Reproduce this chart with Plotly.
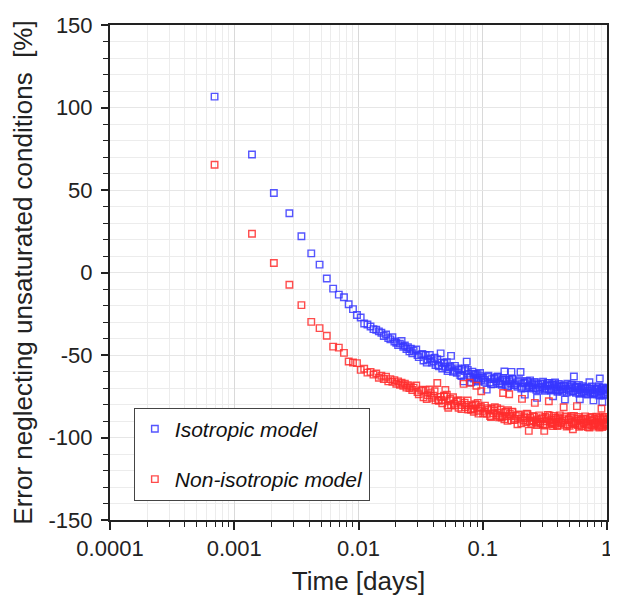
import plotly.graph_objects as go

# Time stamps of the plotted samples, in minutes
time_min = [
    1, 2, 3, 4, 5, 6, 7, 8, 9, 10, 11, 12, 13, 14, 15, 16, 17, 18, 19, 20,
    21, 22, 23, 24, 25, 26, 27, 28, 29, 30, 31, 32, 33, 34, 35, 36, 37, 38, 39, 40,
    42, 44, 46, 48, 50, 52, 54, 56, 58, 60, 62, 64, 66, 68, 70, 72, 74, 76, 78, 80,
    83, 86, 89, 92, 95, 98, 101, 104, 107, 110, 113, 116, 119, 122, 125, 128, 131, 134, 137, 140,
    145, 150, 155, 160, 165, 170, 175, 180, 185, 190, 195, 200, 205, 210, 215, 220, 225, 230, 235, 240, 245, 250,
    258, 266, 274, 282, 290, 298, 306, 314, 322, 330, 338, 346, 354, 362, 370, 378, 386, 394, 402,
    410, 420, 430, 440, 450, 460, 470, 480, 490, 500, 510, 520, 530, 540, 550, 560, 570, 580, 590, 600,
    615, 630, 645, 660, 675, 690, 705, 720, 735, 750, 765, 780, 795, 810, 825, 840, 855, 870, 885, 900,
    920, 940, 960, 980, 1000, 1020, 1040, 1060, 1080, 1100, 1120, 1140, 1160, 1180, 1200, 1220, 1240,
    1260, 1280, 1300, 1320, 1340, 1360, 1380, 1400, 1420, 1440,
    43, 47, 51, 55, 59, 63, 67, 71, 75, 79,
    85, 91, 97, 103, 109, 115, 121, 127, 133, 139,
    148, 158, 168, 178, 188, 198, 208, 218, 228, 238, 248,
    262, 278, 294, 310, 326, 342, 358, 374, 390,
    415, 435, 455, 475, 495, 515, 535, 555, 575, 595,
    622, 652, 682, 712, 742, 772, 802, 832, 862, 892,
    930, 970, 1010, 1050, 1090, 1130, 1170, 1210, 1250, 1290, 1330, 1370, 1410, 1435,
]

iso_err = [
    106.6, 71.5, 48.2, 35.9, 22.0, 11.6, 4.8, -3.6, -9.8, -13.4, -15.0, -19.2, -22.2, -25.8, -27.3, -30.9, -31.5, -32.7, -34.3, -34.7,
    -35.7, -36.5, -38.5, -37.6, -39.8, -40.5, -39.2, -41.8, -42.6, -44.0, -43.1, -41.5, -45.0, -44.2, -46.4, -45.3, -47.8, -46.2, -48.9, -47.4,
    -46.7, -51.3, -49.8, -53.3, -50.0, -52.7, -50.0, -54.6, -53.7, -56.1, -52.6, -56.8, -49.0, -58.2, -54.7, -57.1, -54.3, -58.6, -57.5, -50.5,
    -60.2, -56.6, -60.8, -59.0, -62.2, -58.6, -66.0, -58.1, -54.0, -61.3, -63.6, -66.5, -60.1, -64.2, -62.2, -65.3, -61.6, -63.9, -60.9, -65.1,
    -63.9, -66.2, -71.0, -62.6, -66.6, -64.6, -67.6, -63.8, -66.1, -63.0, -67.2, -65.9, -68.0, -64.1, -60.0, -68.1, -66.0, -68.9, -65.1, -67.3, -60.2, -64.3,
    -68.4, -67.1, -69.2, -65.3, -60.3, -69.3, -67.2, -74.0, -70.2, -66.4, -68.6, -65.4, -69.5, -68.2, -70.3, -66.3, -70.2, -76.0, -68.1,
    -71.0, -67.2, -69.3, -66.2, -70.2, -68.9, -70.9, -67.0, -70.8, -68.7, -71.5, -67.7, -75.0, -69.9, -66.7, -70.8, -69.4, -71.5, -67.5, -71.4,
    -69.3, -72.2, -68.3, -77.0, -70.6, -67.4, -71.5, -70.2, -72.2, -68.3, -72.1, -63.0, -70.1, -72.9, -69.1, -71.2, -68.1, -76.8, -70.8, -72.8,
    -68.9, -72.8, -70.6, -73.5, -69.6, -71.8, -66.5, -72.7, -71.3, -73.4, -77.5, -73.3, -71.1, -74.0, -70.1, -72.3, -69.1,
    -64.2, -71.8, -73.8, -78.5, -69.9, -73.7, -71.6, -74.4, -70.5, -72.6,
    -50.1, -49.3, -54.6, -52.1, -51.7, -56.3, -54.6, -55.1, -59.8, -56.8,
    -59.5, -58.1, -62.8, -59.8, -59.0, -63.3, -61.3, -61.6, -66.1, -62.9,
    -65.1, -63.3, -67.7, -64.5, -63.4, -67.4, -65.1, -65.1, -69.3, -65.9, -64.7,
    -68.0, -66.1, -70.3, -66.9, -65.7, -69.5, -67.2, -67.1, -71.3,
    -69.6, -67.6, -71.7, -68.2, -66.9, -70.7, -68.3, -68.2, -72.3, -68.8,
    -70.7, -68.7, -72.8, -69.3, -68.0, -71.9, -69.5, -69.4, -73.5, -70.0,
    -71.9, -69.8, -73.9, -70.4, -69.1, -72.9, -70.5, -70.4, -74.5, -71.0, -69.6, -73.4, -71.0, -70.8,
]

noniso_err = [
    65.3, 23.5, 5.8, -7.4, -19.8, -29.9, -33.7, -38.3, -44.9, -45.5, -48.7, -53.9, -54.5, -54.9, -59.0, -58.3, -60.7, -60.2, -61.9, -61.2,
    -63.8, -62.6, -64.5, -63.2, -66.0, -64.6, -66.3, -65.2, -67.4, -66.0, -68.0, -66.8, -68.6, -67.4, -69.8, -68.3, -70.1, -69.0, -71.2, -69.8,
    -68.5, -73.8, -71.6, -75.6, -71.3, -74.3, -70.9, -75.9, -74.7, -77.5, -67.0, -77.8, -75.4, -79.2, -74.7, -71.2, -74.0, -82.0, -77.5, -80.3,
    -75.6, -80.6, -78.2, -82.0, -77.5, -80.3, -67.5, -81.6, -80.3, -83.0, -66.8, -83.2, -80.7, -84.4, -79.8, -68.6, -79.0, -83.8, -82.4, -72.0,
    -85.4, -80.7, -85.7, -83.3, -87.0, -82.5, -85.3, -81.7, -86.5, -85.1, -87.8, -83.0, -87.9, -73.0, -89.0, -84.4, -87.2, -83.5, -73.8, -86.8, -89.5, -84.6,
    -89.5, -87.0, -92.0, -86.0, -88.7, -76.6, -89.7, -88.2, -90.8, -85.9, -96.0, -88.1, -91.7, -87.0, -89.6, -79.0, -90.6, -89.0, -91.6,
    -86.6, -91.4, -88.7, -92.2, -96.0, -87.5, -90.1, -86.3, -78.0, -91.0, -89.4, -91.9, -93.0, -86.9, -91.7, -89.0, -92.5, -87.7, -90.3, -86.6,
    -91.3, -89.7, -81.7, -92.3, -87.3, -92.1, -89.4, -92.9, -88.1, -90.7, -95.0, -86.9, -91.6, -90.0, -81.0, -92.5, -87.5, -92.2, -89.6, -93.1,
    -88.4, -91.0, -87.2, -91.8, -90.3, -92.8, -94.0, -87.9, -92.6, -89.9, -93.4, -88.6, -91.2, -87.4, -92.1, -90.5, -93.0,
    -88.0, -92.7, -82.6, -93.6, -88.8, -91.4, -87.6, -92.2, -90.6, -93.1,
    -72.5, -71.0, -76.7, -73.1, -72.0, -77.3, -77.3, -75.2, -80.6, -76.7,
    -79.5, -77.5, -82.8, -78.9, -77.6, -82.7, -82.5, -80.3, -85.5, -81.5,
    -84.3, -82.3, -87.6, -83.6, -82.2, -87.2, -87.0, -84.7, -89.9, -85.7, -84.3,
    -88.6, -86.3, -91.4, -87.2, -85.6, -90.3, -89.9, -87.5, -92.4,
    -90.3, -87.8, -92.7, -88.3, -86.6, -91.2, -90.7, -88.1, -93.0, -88.6,
    -90.9, -88.4, -93.3, -88.9, -87.1, -91.8, -91.2, -88.6, -93.5, -89.1,
    -91.4, -88.8, -93.7, -89.3, -87.5, -92.2, -91.6, -89.0, -93.9, -89.5, -87.7, -92.4, -91.8, -89.2,
]

x_tick_vals = [0.0001, 0.001, 0.01, 0.1, 1]
x_tick_text = ["0.0001", "0.001", "0.01", "0.1", "1"]
y_tick_vals = [-150, -100, -50, 0, 50, 100, 150]
y_tick_text = ["-150", "-100", "-50", "0", "50", "100", "150"]

days = [m / 1440 for m in time_min]
minor_x = [m * 10.0 ** e for e in range(-4, 0) for m in range(2, 10)]

fig = go.Figure()
fig.add_trace(go.Scatter(
    x=days, y=iso_err, mode="markers", name="<i>Isotropic model</i>", legendgroup="iso",
    marker=dict(symbol="square-open", size=6.5, color="rgba(55,55,255,0.85)", line=dict(width=1.4)),
))
fig.add_trace(go.Scatter(
    x=days, y=noniso_err, mode="markers", name="<i>Non-isotropic model</i>", legendgroup="noniso",
    marker=dict(symbol="square-open", size=6.5, color="rgba(255,45,45,0.85)", line=dict(width=1.4)),
))

axis_color = "#222222"
fig.update_layout(
    width=610, height=588,
    margin=dict(l=102, r=5, t=13, b=73),
    paper_bgcolor="white", plot_bgcolor="white",
    font=dict(family="Liberation Sans, Arial, sans-serif", size=22, color="#222222"),
    showlegend=True,
    legend=dict(
        x=0.048, y=0.227, xanchor="left", yanchor="top",
        bordercolor="#444444", borderwidth=1, bgcolor="white",
        font=dict(size=21, color="#111111"),
        traceorder="grouped", tracegroupgap=20,
    ),
)
fig.update_xaxes(
    type="log", range=[-4, 0],
    tickmode="array", tickvals=x_tick_vals, ticktext=x_tick_text,
    ticks="outside", ticklen=8, tickwidth=1.5, tickcolor=axis_color,
    showline=True, linecolor=axis_color, linewidth=2, mirror=True,
    showgrid=True, gridcolor="#d9d9d9", gridwidth=1, zeroline=False,
    minor=dict(tickmode="array", tickvals=minor_x, ticks="outside", ticklen=5,
               tickwidth=1.2, tickcolor=axis_color, showgrid=True, gridcolor="#ececec"),
    title=dict(text="Time [days]", standoff=11),
)
fig.update_yaxes(
    range=[-150, 150], tickmode="array", tickvals=y_tick_vals, ticktext=y_tick_text,
    ticks="outside", ticklen=7, tickwidth=1.5, tickcolor=axis_color, ticklabelstandoff=4,
    showline=True, linecolor=axis_color, linewidth=2, mirror=True,
    showgrid=True, gridcolor="#e6e6e6", gridwidth=1, zeroline=False,
    minor=dict(dtick=10, ticks="outside", ticklen=5, tickwidth=1.2, tickcolor=axis_color,
               showgrid=True, gridcolor="#ececec"),
    title=dict(text="Error neglecting unsaturated conditions  [%]", standoff=10),
)

fig.write_html("out.html")
